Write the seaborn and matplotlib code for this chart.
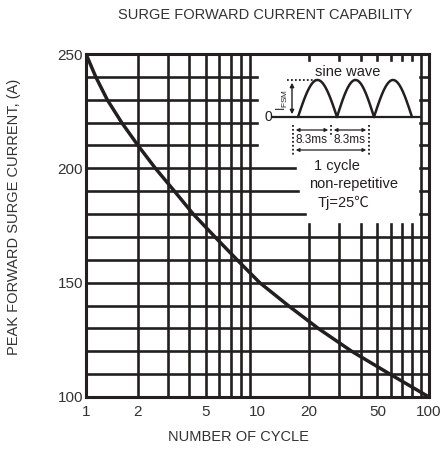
import numpy as np
import pandas as pd
import matplotlib.pyplot as plt
import seaborn as sns
from matplotlib.patches import Rectangle

# Data (where it crosses each 10 A grid line)
cycles = [1, 1.14, 1.33, 1.615, 2.01, 2.54, 3.28, 4.22, 5.65, 7.6,
          10.3, 15.1, 22.6, 35.4, 59.2, 100]
surge_amps = [250, 240, 230, 220, 210, 200, 190, 180, 170, 160,
              150, 140, 130, 120, 110, 100]

x_ticks = [1, 2, 5, 10, 20, 50, 100]
y_ticks = [100, 150, 200, 250]

INK = '#231f20'

sns.set_style('white')
plt.rcParams['font.family'] = ['Liberation Sans', 'DejaVu Sans']

fig = plt.figure(figsize=(4.46, 4.49), dpi=100)
W, H = 446, 449
ax = fig.add_axes([86 / W, 1 - 397 / H, (429 - 86) / W, (397 - 54) / H])

df = pd.DataFrame({'cycle': cycles, 'amps': surge_amps})
sns.lineplot(data=df, x='cycle', y='amps', ax=ax, color=INK, linewidth=2.5, zorder=5)

ax.set_xscale('log')
ax.set_xlim(1, 100)
ax.set_ylim(100, 250)

# grid: every integer step per decade on x, every 10 A on y
xgrid = list(range(2, 10)) + list(range(20, 100, 10))
for xv in xgrid:
    ax.axvline(xv, color=INK, linewidth=1.9, zorder=1)
for yv in range(110, 250, 10):
    ax.axhline(yv, color=INK, linewidth=1.9, zorder=1)

ax.set_xticks(x_ticks)
ax.set_xticklabels([str(v) for v in x_ticks])
ax.set_xticks([], minor=True)
ax.set_yticks(y_ticks)
ax.tick_params(length=0, labelsize=11, colors='#333333')
ax.tick_params(axis='x', pad=6)
ax.tick_params(axis='y', pad=2)
for s in ax.spines.values():
    s.set_color(INK)
    s.set_linewidth(2.2)

ax.set_xlabel('NUMBER OF CYCLE', fontsize=10.5, color='#333333')
ax.xaxis.set_label_coords((238 - 86) / 343, -(430 - 397) / 343)
ax.set_ylabel('PEAK FORWARD SURGE CURRENT, (A)', fontsize=10.5, color='#333333')
ax.yaxis.set_label_coords((21 - 86) / 343, (397 - 217) / 343)
fig.text(265 / W, 1 - 15 / H, 'SURGE FORWARD CURRENT CAPABILITY', fontsize=10.5,
         color='#333333', ha='center', va='center')

# overlay in pixel coordinates for the inset sketch
ov = fig.add_axes([0, 0, 1, 1])
ov.set_xlim(0, W)
ov.set_ylim(H, 0)
ov.axis('off')
ov.patch.set_alpha(0)

for x0, y0, x1, y1 in [(259, 62, 418, 158), (297, 158, 418, 180),
                       (300, 180, 418, 202), (307, 202, 418, 222)]:
    ov.add_patch(Rectangle((x0, y0), x1 - x0, y1 - y0, color='white', zorder=2))

base_y, amp = 117, 37
ov.plot([272, 420], [base_y, base_y], color=INK, lw=1.6, zorder=3)
for a, b in [(298, 337), (337, 374), (374, 412)]:
    t = np.linspace(0, np.pi, 60)
    ov.plot(a + (b - a) * t / np.pi, base_y - amp * np.sin(t), color=INK, lw=1.8, zorder=3)
ov.text(268, base_y, '0', ha='center', va='center', fontsize=10, color=INK, zorder=4)
ov.plot([287, 317], [base_y - amp, base_y - amp], color=INK, lw=1.3, ls=(0, (1, 1.2)), zorder=3)
ov.annotate('', xy=(292, base_y - amp), xytext=(292, base_y),
            arrowprops=dict(arrowstyle='<|-|>', color=INK, lw=1.0, mutation_scale=6), zorder=4)
ov.text(282, 100, 'I$_\\mathregular{FSM}$', rotation=90, ha='center', va='center',
        fontsize=8.5, color=INK, zorder=4)
ov.text(348, 72, 'sine wave', ha='center', va='center', fontsize=10.5, color=INK, zorder=4)

for xv, y1 in [(293, 155), (331, 137), (369, 155)]:
    ov.plot([xv, xv], [125, y1], color=INK, lw=1.3, ls=(0, (1, 1.2)), zorder=3)
for a, b in [(293, 331), (331, 369)]:
    ov.annotate('', xy=(a, 130), xytext=(b, 130),
                arrowprops=dict(arrowstyle='<|-|>', color=INK, lw=0.9, mutation_scale=5), zorder=4)
ov.annotate('', xy=(293, 150), xytext=(369, 150),
            arrowprops=dict(arrowstyle='<|-|>', color=INK, lw=0.9, mutation_scale=5), zorder=4)
ov.text(312, 140, '8.3ms', ha='center', va='center', fontsize=8.5, color=INK, zorder=4)
ov.text(350, 140, '8.3ms', ha='center', va='center', fontsize=8.5, color=INK, zorder=4)

ov.text(337, 166, '1 cycle', ha='center', va='center', fontsize=10.5, color=INK, zorder=4)
ov.text(354, 184, 'non-repetitive', ha='center', va='center', fontsize=10.5, color=INK, zorder=4)
ov.text(344, 203, 'Tj=25\u2103', ha='center', va='center', fontsize=10.5, color=INK,
        family=['Liberation Sans', 'Noto Sans CJK SC', 'DejaVu Sans'], zorder=4)

fig.savefig('out.png', dpi=100, facecolor='white')
